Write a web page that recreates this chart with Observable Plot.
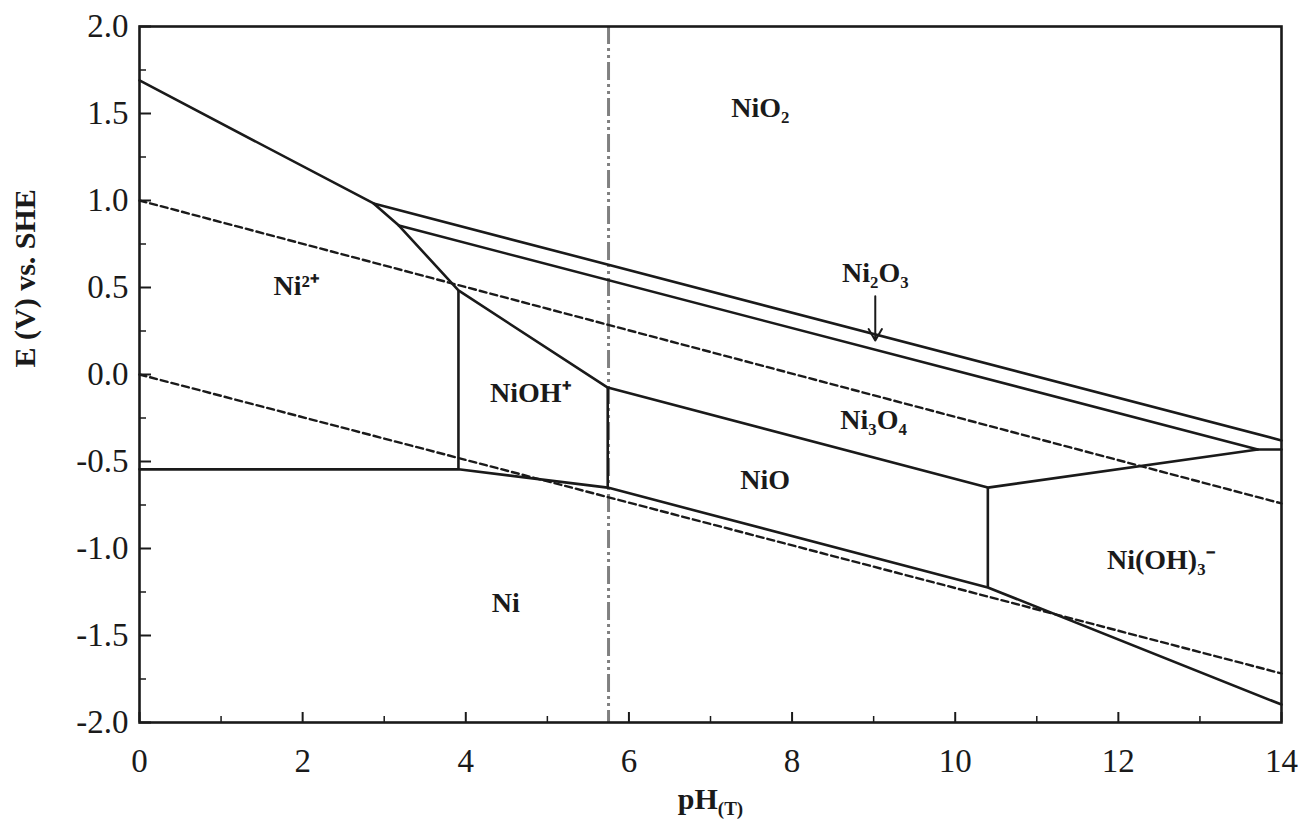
<!DOCTYPE html>
<html><head><meta charset="utf-8">
<script src="https://cdn.jsdelivr.net/npm/d3@7"></script>
<script src="https://cdn.jsdelivr.net/npm/@observablehq/plot@0.6"></script>
<style>body{margin:0;background:#fff}</style>
</head><body><div id="chart"></div>
<script>
// ---- tick values ----
const xTicks = [0, 2, 4, 6, 8, 10, 12, 14];
const xMinorTicks = [1, 3, 5, 7, 9, 11, 13];
const yTicks = [-2, -1.5, -1, -0.5, 0, 0.5, 1, 1.5, 2];
const yMinorTicks = [-1.75, -1.25, -0.75, -0.25, 0.25, 0.75, 1.25, 1.75];

// ---- solid phase boundaries (pH, E in V vs SHE) ----
const oxideBoundaryPH = [0, 2.87, 3.18, 3.91, 5.74, 10.40, 13.71, 14];
const oxideBoundaryE  = [1.69, 0.983, 0.856, 0.483, -0.075, -0.65, -0.431, -0.431];
const niO2LinePH  = [2.87, 14];
const niO2LineE   = [0.983, -0.379];
const ni2O3LinePH = [3.18, 13.71];
const ni2O3LineE  = [0.856, -0.431];
const metalLinePH = [0, 3.91, 5.74, 10.40, 14];
const metalLineE  = [-0.545, -0.545, -0.65, -1.224, -1.897];
const verticalPH      = [3.91, 5.74, 10.40];
const verticalTopE    = [0.483, -0.075, -0.65];
const verticalBottomE = [-0.545, -0.65, -1.224];

// ---- water stability lines (dashed) ----
const o2LinePH = [0, 14];
const o2LineE  = [1.0, -0.741];
const h2LinePH = [0, 14];
const h2LineE  = [0.0, -1.718];

// ---- neutral pH at temperature (dash-dot) ----
const neutralPH = [5.75];

// ---- region labels ----
const regionLabels = ["NiO₂", "Ni₂O₃", "Ni²⁺", "NiOH⁺", "Ni₃O₄", "NiO", "Ni(OH)₃⁻", "Ni"];
const regionPH     = [7.61, 9.02, 1.92, 4.79, 9.0, 7.67, 12.52, 4.49];
const regionE      = [1.534, 0.586, 0.506, -0.109, -0.264, -0.609, -1.069, -1.316];

// ---- arrow for Ni2O3 ----
const arrowPH    = [9.02];
const arrowFromE = [0.45];
const arrowToE   = [0.195];

const pts = (xs, ys) => xs.map((x, i) => ({pH: x, E: ys[i]}));
const verticals = verticalPH.map((x, i) => ({pH: x, top: verticalTopE[i], bottom: verticalBottomE[i]}));
const labels = regionLabels.map((t, i) => ({t, pH: regionPH[i], E: regionE[i]}));
const arrows = arrowPH.map((x, i) => ({pH: x, from: arrowFromE[i], to: arrowToE[i]}));

const ink = "#1a1a1a";
const lw = 2.6;

const chart = Plot.plot({
  width: 1301,
  height: 830,
  marginLeft: 139,
  marginRight: 20,
  marginTop: 26,
  marginBottom: 108,
  x: {domain: [0, 14]},
  y: {domain: [-2, 2]},
  style: {fontFamily: "Liberation Serif, Times New Roman, serif", fontSize: "28px", color: ink, background: "#fff"},
  marks: [
    Plot.ruleX(neutralPH, {stroke: "#808080", strokeWidth: 3, strokeDasharray: "18,4,3,4,3,4"}),
    Plot.line(pts(o2LinePH, o2LineE), {x: "pH", y: "E", stroke: ink, strokeWidth: 2.4, strokeDasharray: "7,4"}),
    Plot.line(pts(h2LinePH, h2LineE), {x: "pH", y: "E", stroke: ink, strokeWidth: 2.4, strokeDasharray: "7,4"}),
    Plot.line(pts(oxideBoundaryPH, oxideBoundaryE), {x: "pH", y: "E", stroke: ink, strokeWidth: lw}),
    Plot.line(pts(niO2LinePH, niO2LineE), {x: "pH", y: "E", stroke: ink, strokeWidth: lw}),
    Plot.line(pts(ni2O3LinePH, ni2O3LineE), {x: "pH", y: "E", stroke: ink, strokeWidth: lw}),
    Plot.line(pts(metalLinePH, metalLineE), {x: "pH", y: "E", stroke: ink, strokeWidth: lw}),
    Plot.ruleX(verticals, {x: "pH", y1: "top", y2: "bottom", stroke: ink, strokeWidth: lw}),
    Plot.arrow(arrows, {x1: "pH", x2: "pH", y1: "from", y2: "to", stroke: ink, strokeWidth: 2, headLength: 10}),
    Plot.text(labels, {x: "pH", y: "E", text: "t", fontWeight: "bold", fontSize: 28}),
    Plot.frame({stroke: ink, strokeWidth: lw}),
    Plot.axisX({ticks: xTicks, tickSize: -10, tickFormat: () => "", label: null, stroke: ink, strokeWidth: 2}),
    Plot.axisX({ticks: xMinorTicks, tickSize: -6, tickFormat: () => "", label: null, stroke: ink, strokeWidth: 1.5}),
    Plot.axisX({ticks: xTicks, tickSize: 0, tickPadding: 26, tickFormat: d => String(d), fontSize: 33, label: null}),
    Plot.axisY({ticks: yTicks, tickSize: -12, tickFormat: () => "", label: null, stroke: ink, strokeWidth: 2}),
    Plot.axisY({ticks: yMinorTicks, tickSize: -7, tickFormat: () => "", label: null, stroke: ink, strokeWidth: 1.5}),
    Plot.axisY({ticks: yTicks, tickSize: 0, tickPadding: 11, tickFormat: d => d.toFixed(1), fontSize: 33, label: null}),
    Plot.text(["E (V) vs. SHE"], {frameAnchor: "left", rotate: -90, dx: -114, dy: -7, fontSize: 30, fontWeight: "bold"}),
    Plot.text(["pH(T)"], {frameAnchor: "bottom", dy: 86, fontSize: 30, fontWeight: "bold"})
  ]
});

d3.select(chart).selectAll("text").filter(function() { return this.textContent === "pH(T)"; })
  .each(function() {
    const t = d3.select(this);
    t.text("pH");
    t.append("tspan").attr("font-size", "19").attr("dy", "0.35em").text("(T)");
  });

document.getElementById("chart").appendChild(chart);
</script>
</body></html>
